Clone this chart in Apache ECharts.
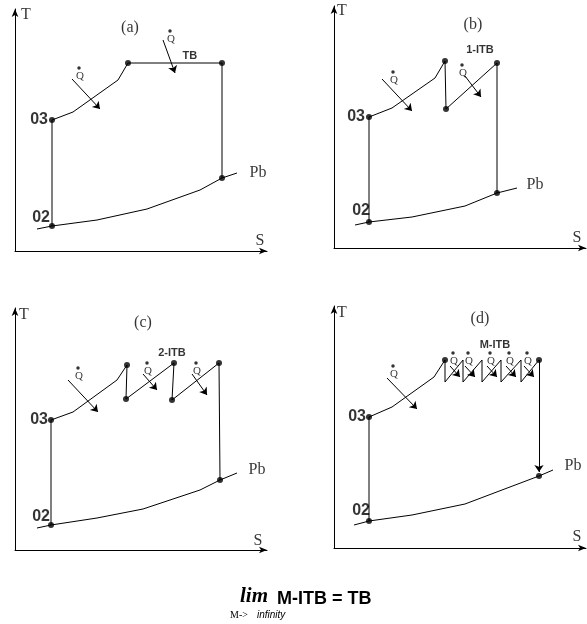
<!DOCTYPE html>
<html>
<head>
<meta charset="utf-8">
<script src="https://cdn.jsdelivr.net/npm/echarts@6/dist/echarts.min.js"></script>
<style>
  html, body { margin: 0; padding: 0; background: #fff; }
  #main { width: 587px; height: 624px; }
</style>
</head>
<body>
<div id="main"></div>
<script>
// T-S diagrams of a gas-turbine cycle: (a) turbine burner, (b) one inter-turbine
// burner, (c) two inter-turbine burners, (d) M inter-turbine burners.
// Coordinates are [S, T] in arbitrary schematic units.

// ---- (a) ----
const cycleA  = [[37,25],[37,131],[58,139],[103,171],[113,188],[207,188],[207,73]];
const statesA = [[37,25],[37,131],[113,188],[207,188],[207,73]];
const pbA     = [[22,22],[37,25],[82,31],[132,42],[185,61],[207,73],[222,78]];
const heatA   = [[[57,172],[85,142]], [[148,211],[160,178]]];
const heatQA  = [[65,175],[156,212]];
const axisTextA  = [['T',11,236],['S',245,10],['(a)',115,223],['Pb',243,78]];
const stateTextA = [['03',33,131],['02',35,33]];
const tagTextA   = [['TB',175,195]];

// ---- (b) ----
const cycleB  = [[35,26],[35,131],[58,140],[101,170],[111,187],[112,139],[163,185],[163,55]];
const statesB = [[35,26],[35,131],[111,187],[112,139],[163,185],[163,55]];
const pbB     = [[21,23],[35,26],[78,31],[131,42],[163,55],[183,60]];
const heatB   = [[[48,169],[78,137]], [[131,172],[147,151]]];
const heatQB  = [[60,168],[129,175]];
const axisTextB  = [['T',8,237],['S',243,10],['(b)',139,223],['Pb',201,63]];
const stateTextB = [['03',31,131],['02',36,37]];
const tagTextB   = [['1-ITB',146,198]];

// ---- (c) ----
const cycleC  = [[36,25],[36,130],[58,138],[102,170],[112,185],[111,151],[159,187],[157,150],[204,187],[205,70]];
const statesC = [[36,25],[36,130],[112,185],[111,151],[159,187],[157,150],[204,187],[205,70]];
const pbC     = [[22,22],[36,25],[82,32],[128,41],[185,60],[205,70],[222,77]];
const heatC   = [[[53,170],[83,138]], [[128,176],[142,160]], [[177,176],[192,155]]];
const heatQC  = [[64,174],[133,179],[182,179]];
const axisTextC  = [['T',9,235],['S',243,9],['(c)',128,227],['Pb',242,80]];
const stateTextC = [['03',33,130],['02',35,33]];
const tagTextC   = [['2-ITB',157,197]];

// ---- (d) ----
const cycleD  = [[35,27],[35,131],[58,141],[100,171],[111,188],[111,166],[129,188],[129,166],
                 [148,188],[148,166],[167,188],[167,166],[187,188],[187,166],[205,188]];
const statesD = [[35,27],[35,131],[111,188],[205,188],[205,72]];
const pbD     = [[20,23],[35,27],[78,33],[131,44],[205,72],[219,78]];
const expandD = [[[205,188],[205,76]]];
const heatD   = [[[53,170],[83,139]], [[116,182],[126,171]], [[131,182],[141,171]],
                 [[153,182],[163,171]], [[172,182],[182,171]], [[190,182],[200,171]]];
const heatQD  = [[60,174],[120,187],[135,187],[157,187],[176,187],[194,187]];
const axisTextD  = [['T',8,235],['S',243,11],['(d)',146,229],['Pb',239,82]];
const stateTextD = [['03',32,131],['02',36,37]];
const tagTextD   = [['M-ITB',161,203]];

const panels = [
  { cycle: cycleA, states: statesA, pb: pbA, heat: heatA, q: heatQA, axisText: axisTextA, stateText: stateTextA, tagText: tagTextA },
  { cycle: cycleB, states: statesB, pb: pbB, heat: heatB, q: heatQB, axisText: axisTextB, stateText: stateTextB, tagText: tagTextB },
  { cycle: cycleC, states: statesC, pb: pbC, heat: heatC, q: heatQC, axisText: axisTextC, stateText: stateTextC, tagText: tagTextC },
  { cycle: cycleD, states: statesD, pb: pbD, heat: heatD, q: heatQD, axisText: axisTextD, stateText: stateTextD, tagText: tagTextD, expand: expandD }
];

// plot areas (1 unit = 1 px)
const frames = [
  { left: 15,  top: 9 },
  { left: 334, top: 6 },
  { left: 15,  top: 308 },
  { left: 334, top: 306 }
];
const SPAN_S = 252, SPAN_T = 242;

const INK = '#000';
const SERIF = '"Liberation Serif", "DejaVu Serif", serif';
const SANS = '"Liberation Sans", Arial, sans-serif';

const styles = {
  axis:  { fontFamily: SERIF, fontSize: 16, color: INK, align: 'center', verticalAlign: 'middle' },
  state: { fontFamily: SANS, fontSize: 16, fontWeight: 'bold', color: INK, align: 'right', verticalAlign: 'middle' },
  tag:   { fontFamily: SANS, fontSize: 11, fontWeight: 'bold', color: INK, align: 'center', verticalAlign: 'middle' },
  q:     { fontFamily: SERIF, fontSize: 11, color: INK, align: 'center', verticalAlign: 'middle' }
};

function textSeries(idx, items, style) {
  return {
    type: 'scatter', xAxisIndex: idx, yAxisIndex: idx, silent: true,
    symbolSize: 0.1, itemStyle: { color: 'transparent' },
    data: items.map(function (t) {
      return { value: [t[1], t[2]], label: Object.assign({ show: true, position: [0, 0], formatter: t[0] }, style) };
    }),
    z: 5
  };
}

const grid = [], xAxis = [], yAxis = [], series = [];
const axisLine = {
  show: true, onZero: false,
  symbol: ['none', 'arrow'], symbolSize: [5, 8],
  lineStyle: { color: INK, width: 1 }
};

panels.forEach(function (p, i) {
  const f = frames[i];
  grid.push({ left: f.left, top: f.top, width: SPAN_S, height: SPAN_T });
  xAxis.push({ gridIndex: i, type: 'value', min: 0, max: SPAN_S,
    axisLine: axisLine, axisTick: { show: false }, axisLabel: { show: false }, splitLine: { show: false } });
  yAxis.push({ gridIndex: i, type: 'value', min: 0, max: SPAN_T,
    axisLine: axisLine, axisTick: { show: false }, axisLabel: { show: false }, splitLine: { show: false } });

  // cycle path
  series.push({ type: 'line', xAxisIndex: i, yAxisIndex: i, data: p.cycle, showSymbol: false,
    lineStyle: { color: INK, width: 1 }, silent: true, clip: false });
  // burner-exit pressure line
  series.push({ type: 'line', xAxisIndex: i, yAxisIndex: i, data: p.pb, showSymbol: false,
    lineStyle: { color: INK, width: 1 }, silent: true, clip: false });
  // heat-addition arrows
  const arrows = p.heat.concat(p.expand || []);
  series.push({ type: 'lines', coordinateSystem: 'cartesian2d', xAxisIndex: i, yAxisIndex: i,
    data: arrows.map(function (c) { return { coords: c }; }),
    symbol: ['none', 'arrow'], symbolSize: 7,
    lineStyle: { color: INK, width: 1, opacity: 1 }, silent: true });
  // state points
  series.push({ type: 'scatter', xAxisIndex: i, yAxisIndex: i, data: p.states,
    symbol: 'circle', symbolSize: 6, itemStyle: { color: '#000' }, silent: true, z: 4 });
  // dots over Q
  series.push({ type: 'scatter', xAxisIndex: i, yAxisIndex: i,
    data: p.q.map(function (q) { return [q[0] - 1, q[1] + 8]; }),
    symbol: 'circle', symbolSize: 3.5, itemStyle: { color: '#000' }, silent: true, z: 4 });

  series.push(textSeries(i, p.q.map(function (q) { return ['Q', q[0], q[1]]; }), styles.q));
  series.push(textSeries(i, p.axisText, styles.axis));
  series.push(textSeries(i, p.stateText, styles.state));
  series.push(textSeries(i, p.tagText, styles.tag));
});

const chart = echarts.init(document.getElementById('main'), null, { renderer: 'canvas' });
chart.setOption({
  animation: false,
  backgroundColor: '#fff',
  grid: grid, xAxis: xAxis, yAxis: yAxis, series: series,
  graphic: [
    { type: 'text', left: 240, top: 586, style: { text: 'lim', fontFamily: SERIF, fontSize: 21, fontWeight: 'bold', fontStyle: 'italic', fill: INK } },
    { type: 'text', left: 277, top: 590, style: { text: 'M-ITB = TB', fontFamily: SANS, fontSize: 18, fontWeight: 'bold', fill: INK } },
    { type: 'text', left: 230, top: 610, style: { text: 'M->', fontFamily: SERIF, fontSize: 10, fill: INK } },
    { type: 'text', left: 257, top: 610, style: { text: 'infinity', fontFamily: SANS, fontSize: 10, fontStyle: 'italic', fill: INK } }
  ]
});
</script>
</body>
</html>
